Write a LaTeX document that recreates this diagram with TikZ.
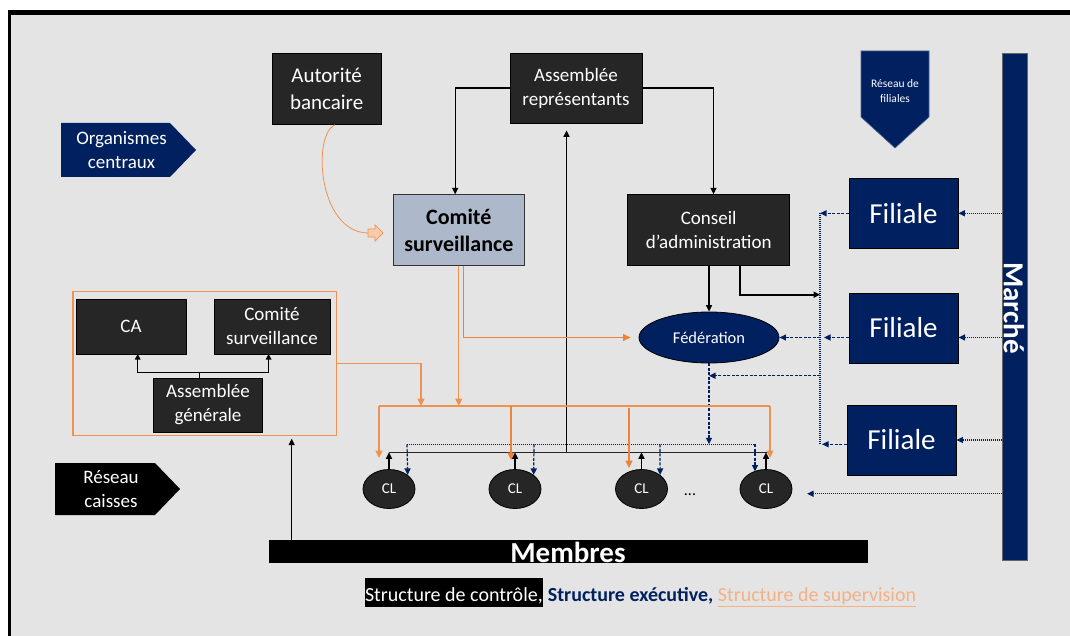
\documentclass[tikz,border=0pt]{standalone}
\usepackage{fontspec}
\setmainfont{Carlito}
\usetikzlibrary{shapes.geometric,arrows.meta}
\definecolor{navy}{HTML}{002060}
\definecolor{dark}{HTML}{262626}
\definecolor{bg}{HTML}{E4E4E4}
\definecolor{sup}{HTML}{F0914F}
\definecolor{supstrong}{HTML}{EE8238}
\definecolor{suplight}{HTML}{F4B183}
\definecolor{csfill}{HTML}{ADB9CA}
\definecolor{pinkfill}{HTML}{F8CBAD}
\newcommand\fsz[2]{\fontsize{#1}{#2}\selectfont}

\begin{document}
\begin{tikzpicture}[x=1pt,y=-1pt,
  box/.style={draw=black, line width=0.8pt, fill=dark, text=white, align=center, inner sep=0pt},
  filiale/.style={draw=black, line width=0.8pt, fill=navy, text=white, minimum width=109pt,
    minimum height=70pt, inner sep=0pt, font=\fsz{29}{34}},
  cl/.style={ellipse, draw=black, line width=0.8pt, fill=dark, text=white, minimum width=52pt,
    minimum height=39pt, inner sep=0pt, font=\fsz{15}{18}},
  tag/.style={text=white, align=center, inner sep=0pt},
  ctl/.style={draw=black, line width=1.4pt, -{Triangle[length=6.5pt,width=6pt]}},
  supv/.style={draw=sup, line width=1.1pt, -{Triangle[length=7.5pt,width=7pt]}},
  supline/.style={draw=sup, line width=1.1pt},
  exe/.style={draw=navy, line width=1.2pt, dash pattern=on 3pt off 1.5pt, -{Triangle[length=6.5pt,width=6pt]}},
  exedot/.style={draw=navy, line width=1.2pt, dash pattern=on 1pt off 1pt},
  exedota/.style={exedot, -{Triangle[length=6.5pt,width=6pt]}},
]
\useasboundingbox (0,0) rectangle (1070,636);
\fill[white] (0,0) rectangle (1070,636);
% frame
\fill[bg] (9,13) rectangle (1075,640);
\draw[line width=5pt] (7.5,13) -- (1075,13);
\draw[line width=3pt] (9,11) -- (9,640);

% side labels
\fill[navy] (61,123) -- (170,123) -- (196,150) -- (170,177) -- (61,177) -- cycle;
\node[tag, font=\fsz{19}{23.5}] (org) at (121.5,150) {Organismes\\centraux};
\fill[black] (55,463) -- (155,463) -- (180,489) -- (155,515) -- (55,515) -- cycle;
\node[tag, font=\fsz{19}{24}] (rcaisses) at (111,489) {Réseau\\caisses};
\filldraw[fill=navy, draw=navy!70!white, line width=0.6pt] (861,51) -- (929,51) -- (929,117) -- (895,148) -- (861,117) -- cycle;
\node[tag, font=\fsz{11.5}{15}] (rfil) at (895,91.5) {Réseau de\\filiales};

% central bodies
\node[box, minimum width=109pt, minimum height=71pt, font=\fsz{21}{27}] (ab) at (326.6,89) {Autorité\\bancaire};
\node[box, minimum width=132pt, minimum height=70pt, font=\fsz{19}{24}] (ar) at (576,88) {Assemblée\\représentants};
\node[draw=black!80, line width=0.8pt, fill=csfill, align=center, minimum width=131pt, minimum height=71pt,
  inner sep=0pt, font=\bfseries\fsz{22}{27}] (cs) at (458.8,230) {Comité\\surveillance};
\node[box, minimum width=162pt, minimum height=71pt, font=\fsz{19}{24}] (cadm) at (708.7,229.7) {Conseil\\d’administration};
\node[ellipse, draw=black, line width=0.8pt, fill=navy, text=white, minimum width=140pt, minimum height=51pt,
  inner sep=0pt, font=\fsz{16.5}{20}] (fed) at (709,337.5) {Fédération};

% subsidiaries and market
\node[filiale] (f1) at (903.5,213.3) {Filiale};
\node[filiale] (f2) at (903.6,328) {Filiale};
\node[filiale] (f3) at (901.5,440) {Filiale};
\node[fill=navy, draw=black!60, line width=0.6pt, minimum width=25pt, minimum height=507pt, inner sep=0pt] (marche) at (1015,306.5) {};
\node[rotate=-90, text=white, inner sep=0pt, font=\bfseries\fsz{29}{34}] (marchetxt) at (1014,308) {Marché};

% local bank bodies
\node[draw=sup, line width=1.1pt, minimum width=263.4pt, minimum height=143.3pt, inner sep=0pt] (lbox) at (204.7,363.4) {};
\node[box, minimum width=110pt, minimum height=55pt, font=\fsz{19}{24}] (lca) at (131,326.5) {CA};
\node[box, minimum width=116pt, minimum height=55pt, font=\fsz{19}{24}] (lcs) at (272,326.5) {Comité\\surveillance};
\node[box, minimum width=109pt, minimum height=54pt, font=\fsz{19}{24}] (lag) at (208,405) {Assemblée\\générale};

% local banks
\node[cl] (cl1) at (389,489) {CL};
\node[cl] (cl2) at (515,489) {CL};
\node[cl] (cl3) at (641.5,489) {CL};
\node[cl] (cl4) at (766,489) {CL};
\node[font=\fsz{16}{18}, inner sep=0pt] (dots) at (690,495) {...};

% members
\node[fill=black, minimum width=599pt, minimum height=23pt, inner sep=0pt] (membres) at (568,551.5) {};
\node[anchor=base, text=white, inner sep=0pt, font=\bfseries\fsz{29}{32}] (membrestxt) at (568,562) {Membres};

% legend
\setlength{\fboxsep}{0.5pt}
\node[anchor=base west, inner sep=0pt, font=\fsz{20}{24}] (legend) at (364.3,601.7)
  {\colorbox{black}{\rule[-5pt]{0pt}{28pt}\textcolor{white}{Structure de contrôle,}} \textcolor{navy}{\bfseries Structure exécutive,} \textcolor{suplight}{\underline{Structure de supervision}}};

% ---- control structure (black)
\coordinate (agj) at (199.7,372.7);
\draw[black, line width=1.2pt] (lag.north -| agj) -- (agj);
\draw[black, line width=1.2pt, -{Triangle[length=5.5pt,width=5.5pt]}] (agj) -| (137.7,354);
\draw[black, line width=1.2pt, -{Triangle[length=5.5pt,width=5.5pt]}] (agj) -| (268.6,354);

\coordinate (busL) at (389,452.3);
\coordinate (busR) at (768,452.3);
\coordinate (busM) at (566.5,452.3);
\draw[black!85, line width=1.6pt] (busL) -- (busR);
\draw[ctl, shorten >=7pt] (busM) -- (ar.south -| busM);
\draw[ctl] (cl1.north) -- (cl1.north |- busL);
\draw[ctl] (cl2.north) -- (cl2.north |- busL);
\draw[ctl] (cl3.north) -- (cl3.north |- busL);
\draw[ctl] (cl4.north) -- (cl4.north |- busL);

\draw[ctl] (ar.west) -| (455.2,194.3);
\draw[ctl] (ar.east) -| (713.5,194.3);
\draw[ctl] (cadm.south -| fed.north) -- (fed.north);
\coordinate (fbThick) at (820,294.7);
\draw[ctl, line width=2.4pt] (740,265.4) |- (fbThick);

\coordinate (memUp) at (291.7,540);
\draw[ctl, shorten >=3pt] (memUp) -- (lbox.south -| memUp);

% ---- executive structure (navy)
\coordinate (fbTop) at (820,213.3);
\coordinate (fbBot) at (820,444.3);
\coordinate (fbMid) at (820,375.7);
\draw[exedot] (fbTop) -- (fbBot);
\draw[exe] (f1.west) -- (fbTop);
\draw[exedota] (marche.west |- f1) -- (f1.east);
\draw[exe] (f2.west |- fed) -- (824,337.5);
\draw[exe] (820,337.5) -- (fed.east);
\draw[exedota] (marche.west |- fed) -- (f2.east |- fed);
\draw[exe] (f3.west |- fbBot) -- (822,444.3);
\draw[exedota] (marche.west |- f3) -- (f3.east);
\draw[exedota] (marche.west |- 0,493.7) -- (807,493.7);

\coordinate (clbus) at (709,444.3);
\draw[exe] (fbMid) -- (fed.south |- fbMid);
\draw[exe] (fed.south) -- (clbus);
\draw[exedot] (407,444.3) -- (755,444.3);
\draw[exe] (407,444.3) -- (cl1.north east);
\draw[exe] (534,444.3) -- (cl2.north east);
\draw[exe] (659.9,444.3) -- (cl3.north east);
\draw[exe] (755,444.3) -- (755,471.5);

% ---- supervision structure (orange)
\draw[sup, line width=0.8pt] (335,124.7) .. controls (312,135) and (318,232) .. (368,233);
\filldraw[fill=pinkfill, draw=sup, line width=0.7pt] (368,229) -- (375,229) -- (375,225) -- (383,233)
  -- (375,241) -- (375,237) -- (368,237) -- cycle;

\coordinate (obL) at (379,406);
\coordinate (obR) at (770,406);
\draw[supline] (obL) -- (obR);
\draw[supv] (458.7,265.7) -- (458.7,406);
\draw[supv, draw=supstrong, shorten >=8pt] (463.2,265.7) |- (fed.west);
\draw[supv] (lbox.east) -| (421,406);
\draw[supv] (obL) -- (379,458);
\draw[supv, draw=supstrong] (511,406) -- (511,460);
\draw[supv, draw=supstrong] (629,408) -- (629,468);
\draw[supv] (obR) -- (770,458);
\end{tikzpicture}
\end{document}
